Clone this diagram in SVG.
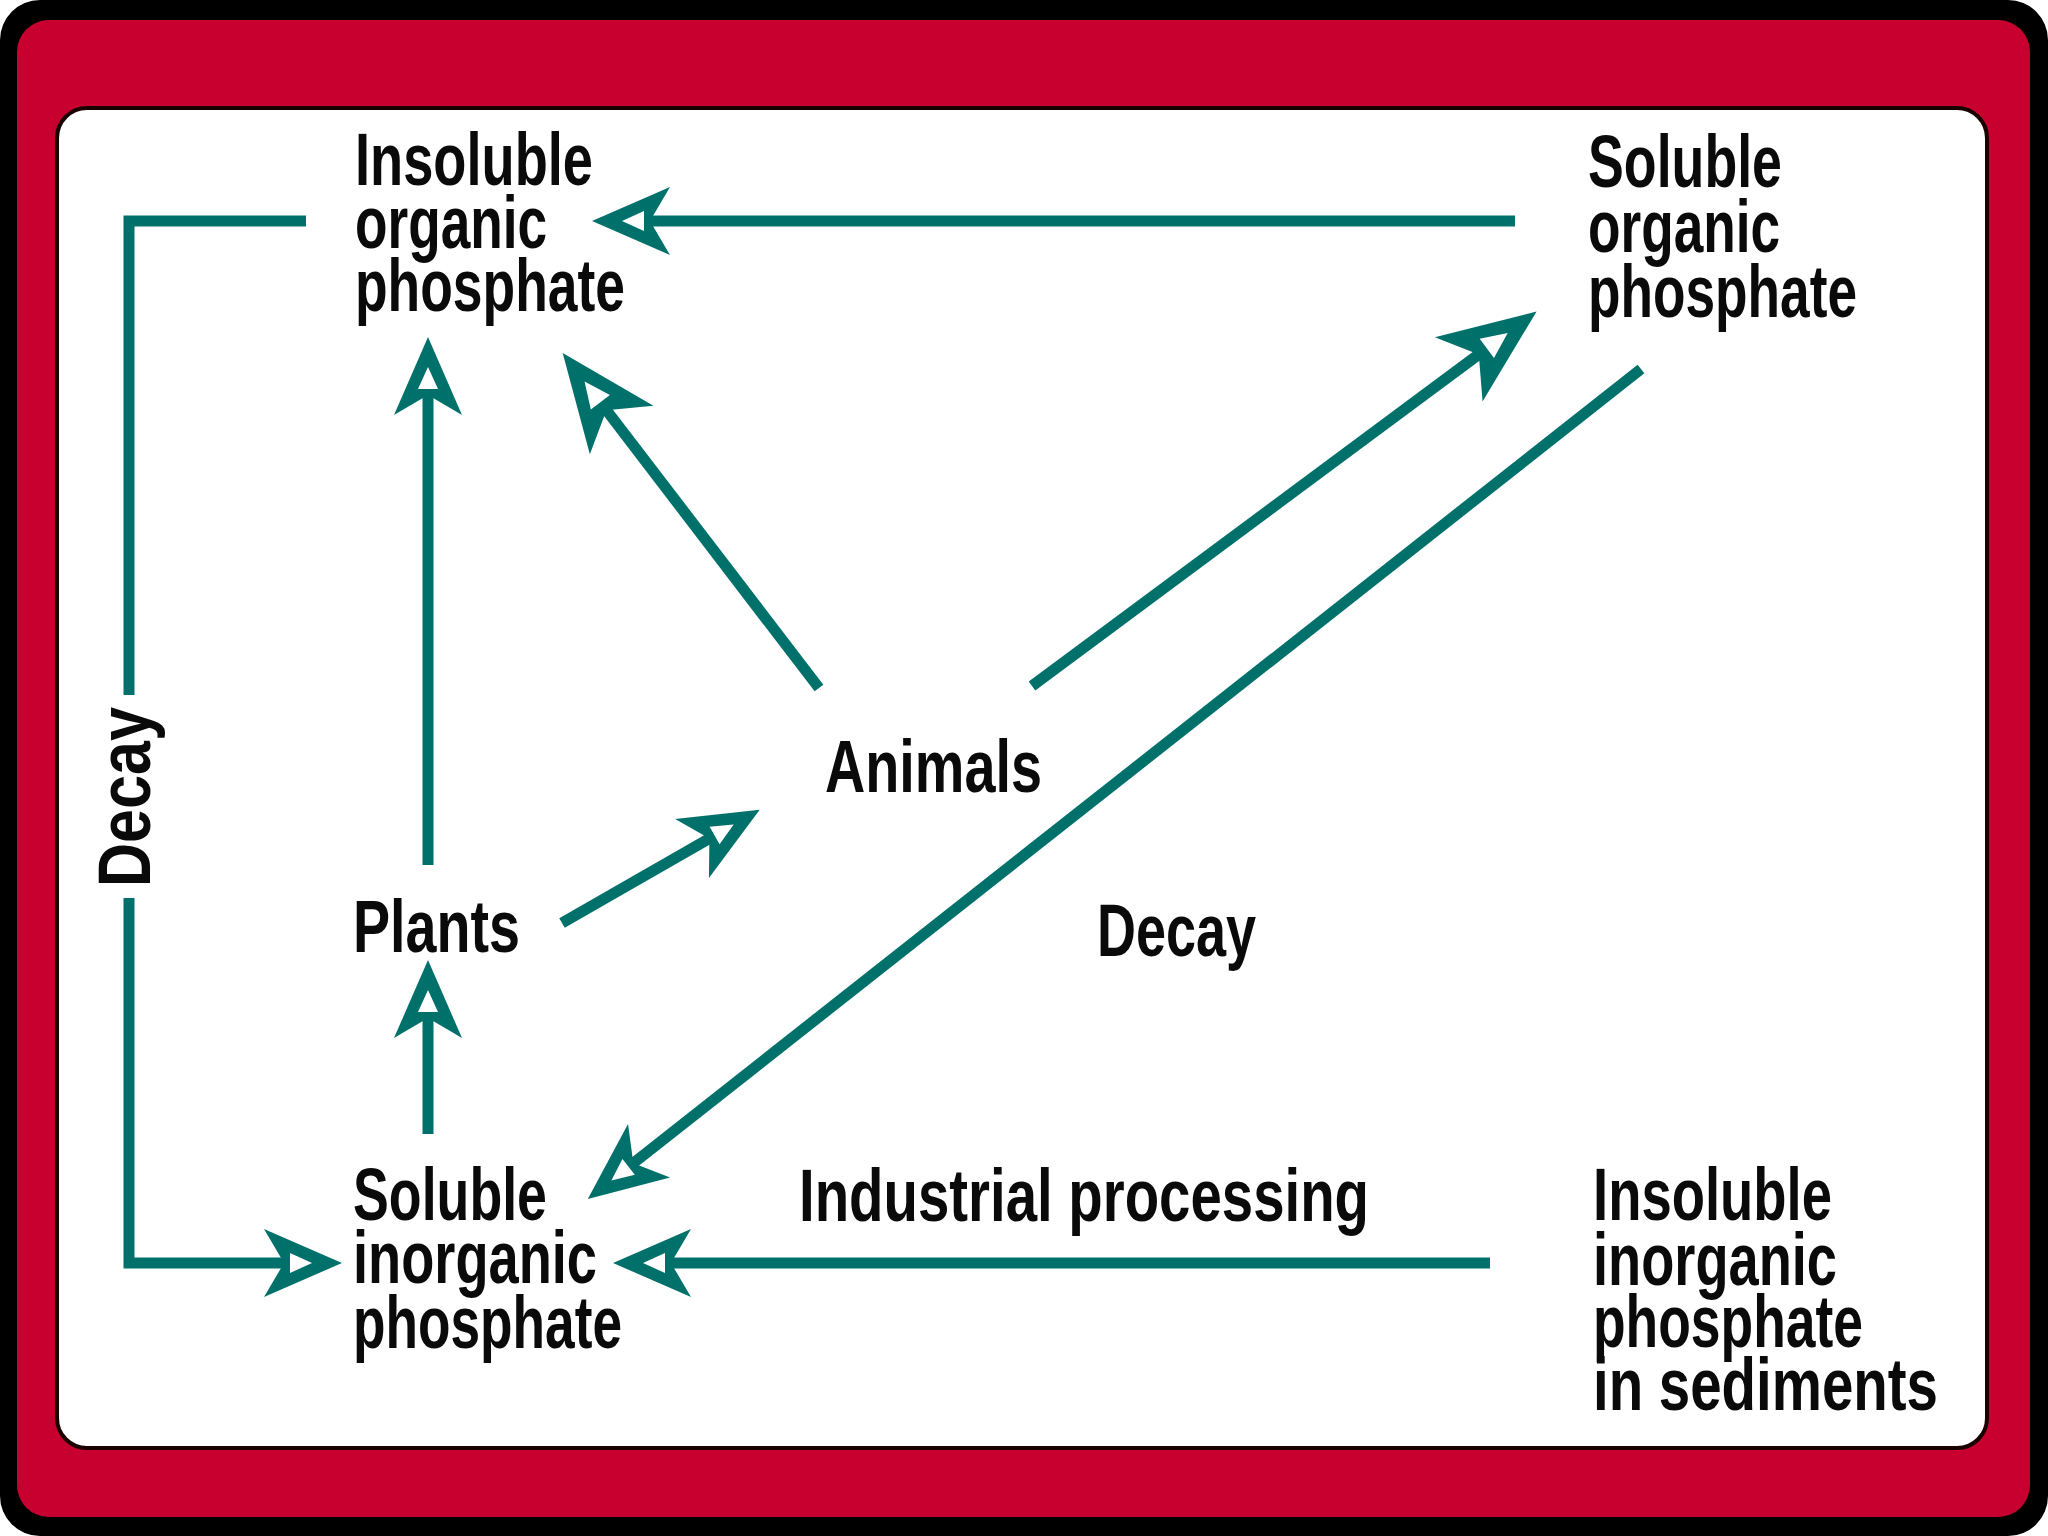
<svg xmlns="http://www.w3.org/2000/svg" width="2048" height="1536" viewBox="0 0 2048 1536">
  <style>
    .lbl { font-family: "Liberation Sans", Arial, sans-serif; font-weight: bold; font-size: 74px; fill: #0a0a0a; }
    .conn { fill: none; stroke: #00706b; stroke-width: 11; stroke-linejoin: miter; stroke-linecap: butt; }
  </style>
  <defs>
    <marker id="head" markerUnits="userSpaceOnUse" orient="auto" viewBox="-30 -40 90 80" refX="0" refY="0" markerWidth="90" markerHeight="80" overflow="visible">
      <path d="M55,0 L-23,-34 L-3,0 L-23,34 Z M25,0 L3,-10 L3,10 Z" fill="#00706b" fill-rule="evenodd"/>
    </marker>
    <marker id="headL" markerUnits="userSpaceOnUse" orient="auto" viewBox="-35 -45 110 90" refX="0" refY="0" markerWidth="110" markerHeight="90" overflow="visible">
      <path d="M68,0 L-29,-40 L-4,0 L-29,40 Z M32,0 L6,-12 L6,12 Z" fill="#00706b" fill-rule="evenodd"/>
    </marker>
  </defs>

  <g id="frame">
    <rect x="0" y="0" width="2048" height="1536" rx="40" fill="#000"/>
    <rect x="17" y="20" width="2013" height="1497" rx="32" fill="#c8002f"/>
    <rect x="57" y="108" width="1930" height="1340" rx="30" fill="#fff" stroke="#1a0000" stroke-width="4"/>
  </g>

  <g id="connectors">
    <path class="conn" d="M306,221 H129 V695"/>
    <path class="conn" d="M129,898 V1263 H287" marker-end="url(#head)"/>
    <path class="conn" d="M1515,221 H647" marker-end="url(#head)"/>
    <path class="conn" d="M428,865 V392" marker-end="url(#head)"/>
    <path class="conn" d="M428,1134 V1015" marker-end="url(#head)"/>
    <path class="conn" d="M562,923 L712,837" marker-end="url(#head)"/>
    <path class="conn" d="M819,688 L604,407" marker-end="url(#headL)"/>
    <path class="conn" d="M1032,686 L1482,352" marker-end="url(#headL)"/>
    <path class="conn" d="M1641,369 L631,1165" marker-end="url(#head)"/>
    <path class="conn" d="M1490,1263 H668" marker-end="url(#head)"/>
  </g>

  <g id="label-decay-left">
    <text class="lbl" transform="translate(150,887) rotate(-90)" x="0" y="0" font-size="68" textLength="180" lengthAdjust="spacingAndGlyphs">Decay</text>
  </g>

  <g id="node-insoluble-organic">
    <text class="lbl" x="355" y="185" textLength="238" lengthAdjust="spacingAndGlyphs">Insoluble</text>
    <text class="lbl" x="355" y="248" textLength="192" lengthAdjust="spacingAndGlyphs">organic</text>
    <text class="lbl" x="355" y="311" textLength="270" lengthAdjust="spacingAndGlyphs">phosphate</text>
  </g>

  <g id="node-soluble-organic">
    <text class="lbl" x="1588" y="187" textLength="194" lengthAdjust="spacingAndGlyphs">Soluble</text>
    <text class="lbl" x="1588" y="252" textLength="192" lengthAdjust="spacingAndGlyphs">organic</text>
    <text class="lbl" x="1588" y="317" textLength="269" lengthAdjust="spacingAndGlyphs">phosphate</text>
  </g>

  <g id="node-animals">
    <text class="lbl" x="825" y="792" textLength="217" lengthAdjust="spacingAndGlyphs">Animals</text>
  </g>

  <g id="node-plants">
    <text class="lbl" x="353" y="952" textLength="167" lengthAdjust="spacingAndGlyphs">Plants</text>
  </g>

  <g id="label-decay-middle">
    <text class="lbl" x="1097" y="956" textLength="159" lengthAdjust="spacingAndGlyphs">Decay</text>
  </g>

  <g id="label-industrial">
    <text class="lbl" x="799" y="1221" textLength="570" lengthAdjust="spacingAndGlyphs">Industrial processing</text>
  </g>

  <g id="node-soluble-inorganic">
    <text class="lbl" x="353" y="1220" textLength="194" lengthAdjust="spacingAndGlyphs">Soluble</text>
    <text class="lbl" x="353" y="1283" textLength="244" lengthAdjust="spacingAndGlyphs">inorganic</text>
    <text class="lbl" x="353" y="1348" textLength="269" lengthAdjust="spacingAndGlyphs">phosphate</text>
  </g>

  <g id="node-insoluble-inorganic">
    <text class="lbl" x="1593" y="1220" textLength="239" lengthAdjust="spacingAndGlyphs">Insoluble</text>
    <text class="lbl" x="1593" y="1285" textLength="244" lengthAdjust="spacingAndGlyphs">inorganic</text>
    <text class="lbl" x="1593" y="1347" textLength="270" lengthAdjust="spacingAndGlyphs">phosphate</text>
    <text class="lbl" x="1593" y="1410" textLength="345" lengthAdjust="spacingAndGlyphs">in sediments</text>
  </g>
</svg>
